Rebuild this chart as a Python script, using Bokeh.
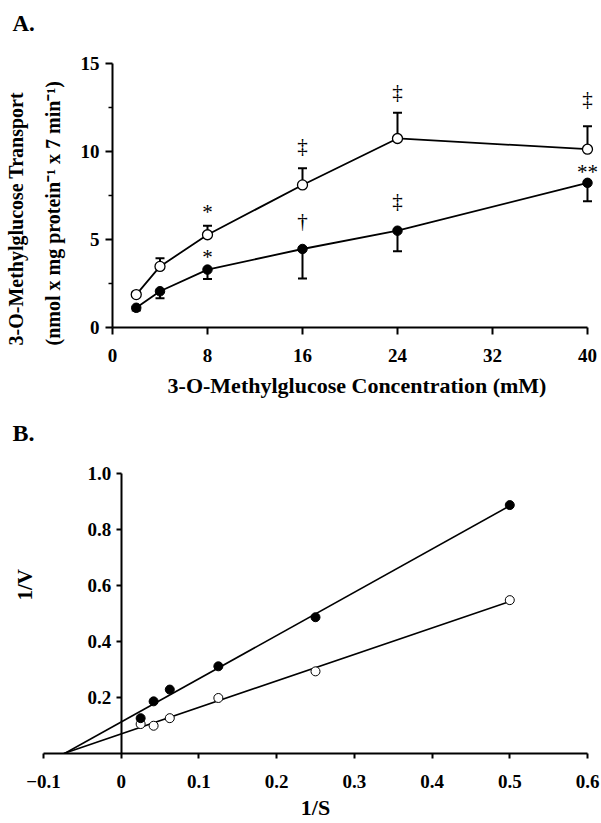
import numpy as np
from bokeh.plotting import figure
from bokeh.models import (ColumnDataSource, Whisker, TeeHead, FixedTicker, Title, Range1d)
from bokeh.embed import file_html
from bokeh.resources import INLINE
from bokeh.core.properties import value

# ---------------- Panel A data ----------------
conc = [2, 4, 8, 16, 24, 40]
open_mean = [1.87, 3.47, 5.27, 8.10, 10.74, 10.13]
open_err = [0.15, 0.46, 0.51, 0.95, 1.46, 1.30]
filled_mean = [1.12, 2.06, 3.29, 4.46, 5.50, 8.22]
filled_err = [0.15, 0.40, 0.53, 1.68, 1.17, 1.04]
sig_x = [8, 8, 16, 16, 24, 24, 40, 40]
sig_y = [6.55, 4.00, 10.30, 6.07, 13.40, 7.20, 13.00, 8.85]
sig_text = ["*", "*", "\u2021", "\u2020", "\u2021", "\u2021", "\u2021", "**"]
a_xticks = [0, 8, 16, 24, 32, 40]
a_yticks = [0, 5, 10, 15]
a_yminor = [2.5, 7.5, 12.5]

# ---------------- Panel B data ----------------
inv_s = [0.025, 0.0417, 0.0625, 0.125, 0.25, 0.5]
inv_v_filled = [0.126, 0.186, 0.228, 0.311, 0.486, 0.886]
inv_v_open = [0.105, 0.099, 0.126, 0.198, 0.293, 0.547]
b_xticks = [-0.1, 0, 0.1, 0.2, 0.3, 0.4, 0.5, 0.6]
b_yticks = [0.2, 0.4, 0.6, 0.8, 1.0]

FONT = "Liberation Serif"
W = 601
HA = 401
HB = 422


def style_axis(ax, tick_out, label_standoff, minor_out=0):
    ax.axis_line_width = 2
    ax.axis_line_color = "black"
    ax.major_tick_line_width = 2
    ax.major_tick_line_color = "black"
    ax.major_tick_in = 0
    ax.major_tick_out = tick_out
    ax.minor_tick_in = 0
    ax.minor_tick_out = minor_out
    ax.minor_tick_line_width = 1.5
    ax.minor_tick_line_color = "black"
    ax.major_label_text_font = FONT
    ax.major_label_text_font_size = "19px"
    ax.major_label_text_font_style = "bold"
    ax.major_label_text_color = "black"
    ax.major_label_standoff = label_standoff
    ax.axis_label_text_font = FONT
    ax.axis_label_text_font_size = "22px"
    ax.axis_label_text_font_style = "bold"
    ax.axis_label_text_color = "black"


def side_title(text, size, standoff, offset, **kw):
    return Title(text=text, align="left", offset=offset, standoff=standoff,
                 text_font=FONT, text_font_size=size, text_font_style="bold", text_color="black", **kw)


# ================= Panel A =================
pA = figure(width=W, height=HA, x_range=Range1d(0, 41.18), y_range=Range1d(0, 15),
            output_backend="svg", toolbar_location=None,
            min_border_left=112, min_border_right=0, min_border_top=63, min_border_bottom=74)
pA.outline_line_color = None
pA.grid.visible = False

pA.xaxis.ticker = FixedTicker(ticks=a_xticks)
pA.xaxis.bounds = (0, 40)
pA.yaxis.ticker = FixedTicker(ticks=a_yticks, minor_ticks=a_yminor)
style_axis(pA.xaxis[0], 7, 14)
style_axis(pA.yaxis[0], 7, 6, minor_out=4)
pA.xaxis.axis_label = "3-O-Methylglucose Concentration (mM)"
pA.xaxis.axis_label_standoff = 8

pA.add_layout(side_title("(nmol x mg protein\u207b\u00b9 x 7 min\u207b\u00b9)", "20px", 27, -18), "left")
pA.add_layout(side_title("3-O-Methylglucose Transport", "20px", 0, -18), "left")
pA.add_layout(side_title("A.", "23px", 0, -100,
                         padding=dict(left=0, right=0, top=0, bottom=28)), "above")

src_open = ColumnDataSource(dict(x=conc, y=open_mean,
                                 lo=open_mean, hi=[m + e for m, e in zip(open_mean, open_err)]))
src_filled = ColumnDataSource(dict(x=conc, y=filled_mean,
                                   lo=[m - e for m, e in zip(filled_mean, filled_err)], hi=filled_mean))

pA.add_layout(Whisker(source=src_open, base="x", upper="hi", lower="lo",
                      upper_head=TeeHead(size=9, line_width=2, line_color="black"), lower_head=None,
                      line_width=2, line_color="black"))
pA.add_layout(Whisker(source=src_filled, base="x", upper="hi", lower="lo",
                      lower_head=TeeHead(size=9, line_width=2, line_color="black"), upper_head=None,
                      line_width=2, line_color="black"))

pA.line("x", "y", source=src_open, line_width=1.8, line_color="black")
pA.line("x", "y", source=src_filled, line_width=1.8, line_color="black")
pA.scatter("x", "y", source=src_open, size=10, fill_color="white", line_color="black", line_width=1.3)
pA.scatter("x", "y", source=src_filled, size=9.5, fill_color="black", line_color="black")

pA.text(x=sig_x, y=sig_y, text=sig_text, text_font=value(FONT), text_font_size="21px",
        text_align="center", text_baseline="middle", text_color="black")

# ================= Panel B =================
pB = figure(width=W, height=HB, x_range=Range1d(-0.1, 0.6), y_range=Range1d(0, 1.045),
            output_backend="svg", toolbar_location=None,
            min_border_left=43, min_border_right=14, min_border_top=59, min_border_bottom=70)
pB.outline_line_color = None
pB.grid.visible = False

pB.xaxis.ticker = FixedTicker(ticks=b_xticks)
pB.xaxis.major_label_overrides = {0: "0"}
pB.yaxis.ticker = FixedTicker(ticks=b_yticks)
pB.yaxis.major_label_overrides = {1: "1.0"}
pB.yaxis.fixed_location = 0
pB.yaxis.bounds = (0, 1.0)
style_axis(pB.xaxis[0], 5, 16)
style_axis(pB.yaxis[0], 5, 5)
pB.xaxis.axis_label = "1/S"
pB.xaxis.axis_label_standoff = 4

pB.add_layout(side_title("1/V", "21px", 14, 153), "left")
pB.add_layout(side_title("B.", "24px", 29, -31), "above")

for yv in (inv_v_filled, inv_v_open):
    m, b = np.polyfit(inv_s, yv, 1)
    x0 = -b / m
    xe = max(inv_s)
    pB.line([x0, xe], [m * x0 + b, m * xe + b], line_width=1.6, line_color="black")

pB.scatter(inv_s, inv_v_open, size=9, fill_color="white", line_color="black", line_width=1)
pB.scatter(inv_s, inv_v_filled, size=9, fill_color="black", line_color="black")

open("out.html", "w").write(file_html([pA, pB], INLINE))
